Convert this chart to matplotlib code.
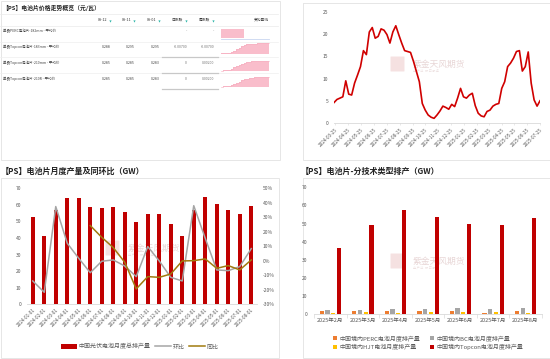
import numpy as np
import pandas as pd
import matplotlib
matplotlib.use('Agg')
import matplotlib.pyplot as plt
from matplotlib.patches import Rectangle, Patch, FancyBboxPatch
from matplotlib.lines import Line2D

plt.rcParams['font.family'] = ['Noto Sans CJK SC', 'DejaVu Sans']
plt.rcParams['axes.unicode_minus'] = False

W, H = 550, 359

# ---- table data (top left) ----
row_labels = ['单晶PERC电池片-182mm - 平均价', '单晶Topcon电池片-183mm - 平均价',
              '单晶Topcon电池片-210mm - 平均价', '单晶Topcon电池片-210R - 平均价']
col_heads = ['08-12', '08-11', '08-01', '日涨跌', '周涨跌']
p_0812 = [np.nan, 0.288, 0.285, 0.285]
p_0811 = [np.nan, 0.295, 0.285, 0.285]
p_0801 = [np.nan, 0.295, 0.283, 0.283]
day_chg = [np.nan, -0.007, 0.0, 0.0]
week_chg = [np.nan, -0.007, 0.002, 0.002]
spark_2 = [0.05, 0.05, 0.06, 0.08, 0.15, 0.3, 0.45, 0.6, 0.75, 0.85, 0.9, 0.93, 0.95, 0.97, 1, 1, 1, 1, 1, 1]
spark_3 = [0.02, 0.03, 0.05, 0.1, 0.2, 0.35, 0.45, 0.55, 0.7, 0.8, 0.85, 0.9, 0.95, 0.95, 0.97, 1, 1, 1, 1, 1]
spark_4 = [0.02, 0.03, 0.04, 0.08, 0.15, 0.3, 0.4, 0.5, 0.65, 0.75, 0.8, 0.85, 0.9, 0.93, 0.95, 1, 1, 0.98, 1, 1]

# ---- weekly line (top right) ----
cell_vals = [4.6, 5.3, 5.6, 5.9, 9.5, 6.5, 6.3, 9.0, 10.8, 12.7, 16.3, 15.4, 20.5, 21.5, 19.1, 19.5,
             21.2, 20.9, 19.9, 18.0, 20.5, 21.9, 19.9, 18.0, 16.3, 16.1, 15.9, 13.9, 11.6, 9.3, 4.4,
             2.9, 1.8, 1.3, 1.05, 1.8, 2.7, 3.8, 3.5, 3.1, 4.2, 3.7, 5.6, 7.8, 5.9, 5.6, 6.3, 6.7,
             3.9, 2.2, 1.6, 1.4, 2.6, 2.9, 3.8, 4.2, 4.4, 7.8, 9.3, 12.7, 13.5, 14.6, 16.1, 16.3,
             11.7, 12.7, 16.0, 9.0, 5.2, 3.8, 5.0]
cell_start = '2024-03-22'

# ---- monthly output (bottom left) ----
months = ['2024-01-01', '2024-02-01', '2024-03-01', '2024-04-01', '2024-05-01', '2024-06-01',
          '2024-07-01', '2024-08-01', '2024-09-01', '2024-10-01', '2024-11-01', '2024-12-01',
          '2025-01-01', '2025-02-01', '2025-03-01', '2025-04-01', '2025-05-01', '2025-06-01',
          '2025-07-01', '2025-08-01']
output = [52.7, 41.4, 56.9, 64.2, 64.2, 58.8, 58.4, 58.8, 55.7, 49.5, 54.5, 54.5,
          48.3, 41.4, 56.9, 65.0, 60.8, 56.9, 54.7, 59.4]
mom = [-13.9, -21.7, 37.4, 12.1, 1.7, -8.2, -0.3, 0.6, -3.6, -10.9, 9.8, -0.1,
       -11.4, -13.9, 38.0, 15.5, -6.3, -6.8, -4.0, 8.4]
yoy = [np.nan] * 5 + [24.3, 16.2, 9.1, -1.0, -19.4, -10.9, -11.4, -9.1, -0.1, 0.1,
                      1.3, -5.2, -3.3, -6.3, 0.6]

# ---- by technology (bottom right) ----
tech_months = ['2025年2月', '2025年3月', '2025年4月', '2025年5月', '2025年6月', '2025年7月', '2025年8月']
perc = [1.6, 2.0, 1.8, 1.8, 1.7, 0.6, 1.7]
bc = [2.6, 2.2, 2.8, 3.0, 3.5, 2.9, 3.3]
hjt = [0.5, 1.0, 0.9, 1.0, 1.0, 1.0, 0.6]
topcon = [36.4, 49.3, 57.7, 53.5, 49.6, 49.3, 52.9]

RED = '#C00000'
GRAY_TXT = '#595959'
AXIS_C = '#D9D9D9'


def px_axes(x0, y0, x1, y1):
    a = fig.add_axes([x0 / W, 1 - y1 / H, (x1 - x0) / W, (y1 - y0) / H])
    a.set_facecolor('none')
    return a


def watermark(x, y):
    canvas.add_patch(FancyBboxPatch((x - 22, y - 7), 13, 14, boxstyle='round,pad=0.5',
                                    fc='#F3DADA', ec='none', alpha=0.8))
    canvas.text(x, y, '紫金天风期货', fontsize=6.3, color='#E8D6D6', va='center', ha='left')
    canvas.text(x, y + 7, '全 产 业   研 究 服 务', fontsize=2.2, color='#EEE2E2', va='center')


fig = plt.figure(figsize=(5.5, 3.59), dpi=100)
canvas = fig.add_axes([0, 0, 1, 1])
canvas.set_xlim(0, W)
canvas.set_ylim(H, 0)
canvas.axis('off')

for (x0, y0, x1, y1) in [(0.5, 0.5, 280, 160), (302.5, 2.5, 560, 160),
                         (0.5, 178, 279, 357.5), (302.5, 178, 560, 357.5)]:
    canvas.add_patch(Rectangle((x0, y0), x1 - x0, y1 - y0, fill=False, ec='#E2E2E2', lw=0.6))

# titles
canvas.text(2, 7.5, '【PS】电池片价格走势概览（元/瓦）', fontsize=4.2, fontweight='bold',
            va='center', color='#222222')
canvas.text(1, 171.5, '【PS】电池片月度产量及同环比（GW）', fontsize=5.8, fontweight='bold',
            va='center', color='#222222')
canvas.text(301, 171.5, '【PS】电池片-分技术类型排产（GW）', fontsize=5.8, fontweight='bold',
            va='center', color='#222222')

# ---------------- table ----------------
canvas.plot([0, 278], [14, 14], color='#EAEAEA', lw=0.5)
col_right = [111, 135, 160, 187, 214]
for cx, head in zip(col_right, col_heads):
    canvas.text(cx - 4, 20, head, fontsize=2.7, ha='right', va='center', color='#333333')
    canvas.plot(cx - 1, 20.5, marker='v', ms=1.6, color='#2BB5A8', mec='none')
canvas.text(269, 20, '变化曲线', fontsize=2.7, ha='right', va='center', color='#333333')
canvas.plot([0, 278], [26, 26], color='#EAEAEA', lw=0.5)

row_y = [31.7, 47.3, 63.3, 79.3]
div_y = [41.7, 57.3, 73.3]
for y in div_y:
    canvas.plot([0, 278], [y, y], color='#EFEFEF', lw=0.5)
for y in [56.5, 72.5, 88.5]:
    canvas.plot([162.3, 218.3], [y, y], color='#C8C8C8', lw=0.9)


def fmt_price(v):
    return '' if np.isnan(v) else f'{v:.3f}'


def fmt_chg(v):
    if np.isnan(v):
        return '-'
    return '0' if v == 0 else f'{v:.5f}'


for i, y in enumerate(row_y):
    canvas.text(3, y, row_labels[i], fontsize=2.5, va='center', color='#444444')
    cells = [fmt_price(p_0812[i]), fmt_price(p_0811[i]), fmt_price(p_0801[i]),
             fmt_chg(day_chg[i]), fmt_chg(week_chg[i])]
    for j, (cx, s) in enumerate(zip(col_right, cells)):
        c = '#777777' if j >= 3 else '#444444'
        canvas.text(cx, y, s, fontsize=2.6, ha='right', va='center', color=c)

# sparklines
canvas.add_patch(Rectangle((220.7, 29.3), 23.6, 9, fc='#F9BDCB', ec='none'))
canvas.plot([220.7, 269.3], [38.5, 38.5], color='#C9D6F0', lw=0.6)
for vals, base, top in [(spark_2, 54, 43.3), (spark_3, 70.7, 60.7), (spark_4, 86.7, 76.7)]:
    xs = np.linspace(220.7, 269.3, len(vals))
    ys = base - np.array(vals) * (base - top)
    canvas.fill_between(xs, ys, base, step='post', fc='#F9BDCB', ec='none')
    canvas.plot(xs, ys, drawstyle='steps-post', color='#F7AEC0', lw=0.4)

# ---------------- top right line chart ----------------
watermark(413, 64)
ax1 = px_axes(334, 12, 540, 123)
dates = pd.date_range(cell_start, periods=len(cell_vals), freq='7D')
ax1.plot(dates, cell_vals, color='#D00000', lw=1.2)
ax1.set_ylim(0, 25)
ax1.set_yticks(range(0, 26, 5))
ax1.set_xlim(dates[0], dates[-1])
tick_dates = [pd.Timestamp('2024-03-25') + pd.DateOffset(months=k) for k in range(17)]
ax1.set_xticks(tick_dates)
ax1.set_xticklabels([d.strftime('%Y-%m-%d') for d in tick_dates], rotation=45, ha='right',
                    rotation_mode='anchor')
for s in ['top', 'right', 'left']:
    ax1.spines[s].set_visible(False)
ax1.spines['bottom'].set_color(AXIS_C)
ax1.spines['bottom'].set_linewidth(0.6)
ax1.tick_params(axis='y', length=0, labelsize=3.6, labelcolor=GRAY_TXT, pad=4)
ax1.tick_params(axis='x', length=1.5, width=0.4, color=AXIS_C, labelsize=3.3,
                labelcolor=GRAY_TXT, pad=1.5)

# ---------------- bottom left combo chart ----------------
watermark(128, 248)
ax2 = px_axes(27, 188.3, 257, 304.3)
x = np.arange(len(months))
ax2.bar(x, output, width=0.38, color=RED, label='中国光伏电池月度总排产量', zorder=2)
ax2.set_ylim(0, 70)
ax2.set_yticks(range(0, 71, 10))
ax2.set_xlim(-0.5, len(months) - 0.5)
ax2.set_xticks(x)
ax2.set_xticklabels(months, rotation=45, ha='right', rotation_mode='anchor')
ax2r = ax2.twinx()
ax2r.set_facecolor('none')
ax2r.plot(x, np.array(mom) / 100, color='#A5A5A5', lw=1.1, label='环比', zorder=3)
ax2r.plot(x, np.array(yoy) / 100, color='#A07A0E', lw=1.1, label='同比', zorder=3)
ax2r.set_ylim(-0.3, 0.5)
ax2r.set_yticks(np.arange(-0.3, 0.51, 0.1))
ax2r.set_yticklabels([f'{round(v * 100)}%' for v in np.arange(-0.3, 0.51, 0.1)])
for a in (ax2, ax2r):
    for s in ['top', 'right', 'left']:
        a.spines[s].set_visible(False)
    a.spines['bottom'].set_color(AXIS_C)
    a.spines['bottom'].set_linewidth(0.6)
    a.tick_params(axis='y', length=0, labelsize=3.6, labelcolor=GRAY_TXT, pad=4)
ax2r.spines['bottom'].set_visible(False)
ax2.tick_params(axis='x', length=0, labelsize=3.3, labelcolor=GRAY_TXT, pad=2)
h_bl = [Patch(fc=RED, ec='none'),
        Line2D([], [], color='#A5A5A5', lw=1.1),
        Line2D([], [], color='#A07A0E', lw=1.1)]
fig.legend(h_bl, ['中国光伏电池月度总排产量', '环比', '同比'], loc='center',
           bbox_to_anchor=(140 / W, 1 - 346.7 / H), ncol=3, frameon=False, fontsize=4.3,
           handlelength=2.6, handleheight=0.9, columnspacing=0.8, handletextpad=0.3,
           labelcolor=GRAY_TXT)

# ---------------- bottom right grouped bars ----------------
watermark(413, 261)
ax3 = px_axes(314, 187.3, 541.7, 314.3)
xc = np.arange(len(tech_months))
series = [(perc, '#ED7D31', '中国境内PERC电池月度排产量'),
          (bc, '#A5A5A5', '中国境内BC电池月度排产量'),
          (hjt, '#FFC000', '中国境内HJT电池月度排产量'),
          (topcon, RED, '中国境内Topcon电池月度排产量')]
offsets = [-0.26, -0.085, 0.09, 0.27]
for (vals, col, lab), off in zip(series, offsets):
    ax3.bar(xc + off, vals, width=0.13, color=col, label=lab, zorder=2)
ax3.set_ylim(0, 70)
ax3.set_yticks(range(0, 71, 10))
ax3.set_xlim(-0.5, len(tech_months) - 0.5)
ax3.set_xticks(xc)
ax3.set_xticklabels(tech_months)
ax3.set_xticks(np.arange(-0.5, len(tech_months), 1), minor=True)
for s in ['top', 'right', 'left']:
    ax3.spines[s].set_visible(False)
ax3.spines['bottom'].set_color(AXIS_C)
ax3.spines['bottom'].set_linewidth(0.6)
ax3.tick_params(axis='y', length=0, labelsize=3.6, labelcolor=GRAY_TXT, pad=5)
ax3.tick_params(axis='x', which='major', length=0, labelsize=4.0, labelcolor=GRAY_TXT, pad=3)
ax3.tick_params(axis='x', which='minor', length=3, width=0.5, color=AXIS_C)
h_br = [Patch(fc=series[k][1], ec='none') for k in (0, 2, 1, 3)]
l_br = [series[k][2] for k in (0, 2, 1, 3)]
fig.legend(h_br, l_br, loc='center', bbox_to_anchor=(428 / W, 1 - 342.7 / H), ncol=2,
           frameon=False, fontsize=4.3, handlelength=0.7, handleheight=0.7,
           columnspacing=1.6, handletextpad=0.4, labelspacing=0.45, labelcolor=GRAY_TXT)

fig.savefig('out.png', dpi=100)
